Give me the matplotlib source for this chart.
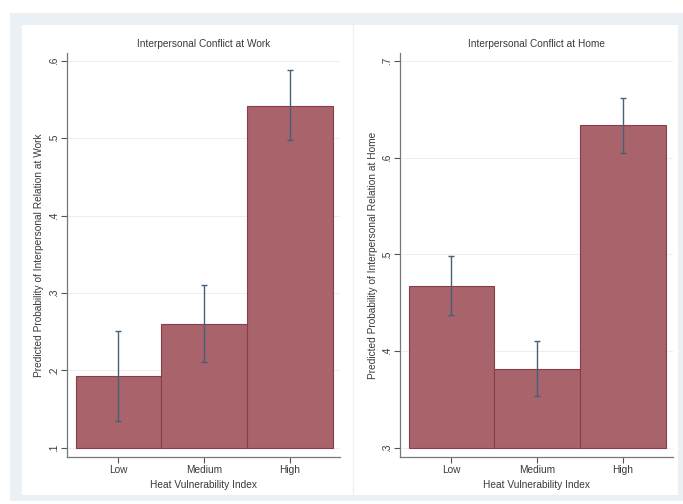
import matplotlib.pyplot as plt
from matplotlib.patches import Rectangle
from matplotlib.lines import Line2D

plt.rcParams['font.family'] = ['Liberation Sans', 'DejaVu Sans']

groups = ['Low', 'Medium', 'High']

work_prob = [0.193, 0.260, 0.542]
work_lo = [0.135, 0.211, 0.497]
work_hi = [0.251, 0.310, 0.588]

home_prob = [0.467, 0.382, 0.634]
home_lo = [0.437, 0.354, 0.605]
home_hi = [0.498, 0.411, 0.662]

work_ticks = [0.1, 0.2, 0.3, 0.4, 0.5, 0.6]
home_ticks = [0.3, 0.4, 0.5, 0.6, 0.7]

bar_color = '#a8636b'
edge_color = '#8a3c48'
ci_color = '#46607a'
text_color = '#3a3a3a'
fs = 7.3

fig = plt.figure(figsize=(6.83, 5.04), dpi=100)
fig.patch.set_facecolor('white')

# graph region background and plot area
fig.patches.append(Rectangle((10/683, 1 - 501/504), 673/683, 488/504,
                             transform=fig.transFigure, facecolor='#eaf0f3',
                             edgecolor='none', zorder=-3))
fig.patches.append(Rectangle((22/683, 1 - 495/504), 656/683, 470/504,
                             transform=fig.transFigure, facecolor='white',
                             edgecolor='none', zorder=-2))
fig.lines.append(Line2D([353/683, 353/683], [1 - 495/504, 1 - 25/504],
                        transform=fig.transFigure, color='#eef0f2', lw=1, zorder=-1))


def panel(ax, prob, lo, hi, base, ticks, ylim, title, ylabel):
    x = range(len(groups))
    heights = [p - base for p in prob]
    ax.bar(x, heights, bottom=base, width=1.0, color=bar_color,
           edgecolor=edge_color, linewidth=0.8, zorder=2)
    yerr = [[p - l for p, l in zip(prob, lo)], [h - p for p, h in zip(prob, hi)]]
    ax.errorbar(x, prob, yerr=yerr, fmt='none', ecolor=ci_color,
                elinewidth=1.0, capsize=2.5, capthick=1.0, zorder=3)
    ax.set_xlim(-0.6, 2.585)
    ax.set_ylim(*ylim)
    ax.set_xticks(list(x))
    ax.set_xticklabels(groups, fontsize=fs, color=text_color)
    ax.set_yticks(ticks)
    ax.set_yticklabels([('%.1f' % t).lstrip('0') for t in ticks],
                       rotation=90, va='center', fontsize=fs, color=text_color)
    ax.yaxis.grid(True, color='#eeeeee', lw=0.8, zorder=0)
    ax.set_axisbelow(True)
    for s in ['top', 'right']:
        ax.spines[s].set_visible(False)
    for s in ['left', 'bottom']:
        ax.spines[s].set_color('#777777')
        ax.spines[s].set_linewidth(0.9)
    ax.tick_params(length=4, width=0.8, color='#555555', pad=2)
    ax.set_title(title, fontsize=fs, color=text_color, pad=4)
    ax.set_xlabel('Heat Vulnerability Index', fontsize=fs, color=text_color, labelpad=3)
    ax.set_ylabel(ylabel, fontsize=fs, color=text_color, labelpad=3)
    ax.set_facecolor('white')


ax1 = fig.add_axes([67/683, 47/504, 273/683, 404/504])
ax2 = fig.add_axes([400/683, 47/504, 273/683, 404/504])

panel(ax1, work_prob, work_lo, work_hi, 0.1, work_ticks, (0.088, 0.61),
      'Interpersonal Conflict at Work',
      'Predicted Probability of Interpersonal Relation at Work')
panel(ax2, home_prob, home_lo, home_hi, 0.3, home_ticks, (0.2907, 0.708),
      'Interpersonal Conflict at Home',
      'Predicted Probability of Interpersonal Relation at Home')

fig.savefig('out.png', dpi=100)
